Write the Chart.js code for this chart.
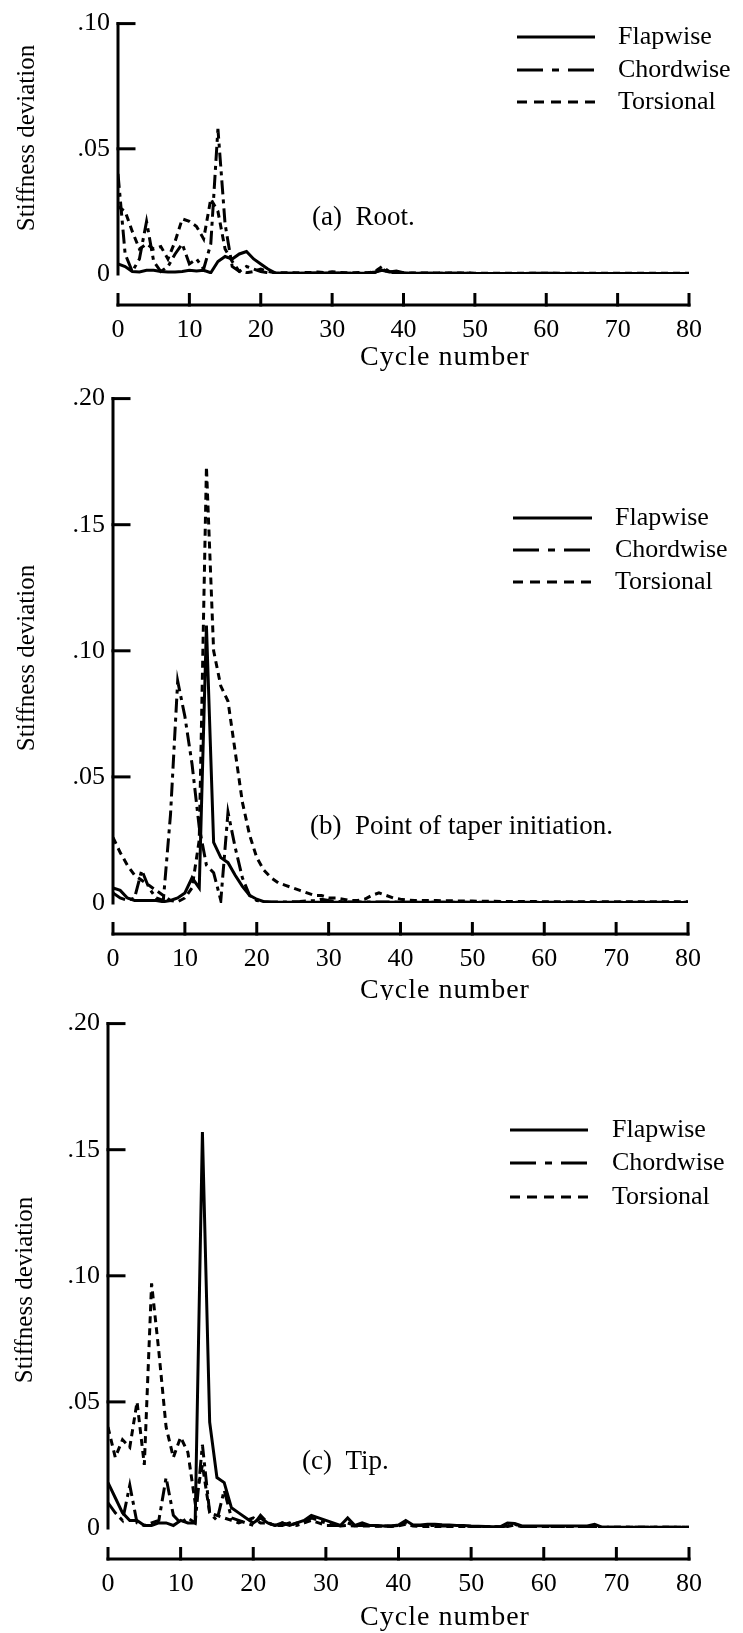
<!DOCTYPE html>
<html><head><meta charset="utf-8">
<script src="https://cdn.jsdelivr.net/npm/chart.js@4.4.1/dist/chart.umd.min.js"></script>
<style>
html,body{margin:0;padding:0;background:#fff;}
#wrap{position:relative;width:743px;height:1633px;overflow:hidden;background:#fff;}
canvas{position:absolute;left:0;}
</style></head><body>
<div id="wrap">
<canvas id="cA" style="top:0px"></canvas>
<canvas id="cB" style="top:375px"></canvas>
<canvas id="cC" style="top:1000px"></canvas>
</div>
<script>
// ---------- data ----------
const cycles = [0,1,2,3,4,5,6,7,8,9,10,11,12,13,14,15,16,17,18,19,20,21,22,23,24,25,26,27,28,29,30,31,32,33,34,35,36,37,38,39,40,41,42,43,44,45,46,47,48,49,50,51,52,53,54,55,56,57,58,59,60,61,62,63,64,65,66,67,68,69,70,71,72,73,74,75,76,77,78,79,80];
const xTickValues = [0,10,20,30,40,50,60,70,80];
const yTicksRoot = [0, 0.05, 0.10];
const yTicksTaper = [0, 0.05, 0.10, 0.15, 0.20];
const yTicksTip = [0, 0.05, 0.10, 0.15, 0.20];
const seriesNames = ['Flapwise', 'Chordwise', 'Torsional'];
const panelCaptions = ['(a)  Root.', '(b)  Point of taper initiation.', '(c)  Tip.'];
const xTitle = 'Cycle number';
const yTitle = 'Stiffness deviation';

// (a) Root
const rootFlapwise = [
0.004,0.003,0.001,0.0008,0.0015,0.0015,0.001,0.0008,0.0008,0.001,
0.0015,0.0012,0.0015,0.0005,0.005,0.007,0.006,0.008,0.009,0.006,
0.004,0.002,0.0005,0.0003,0.0003,0.0003,0.0003,0.0003,0.0004,0.0004,
0.0005,0.0004,0.0003,0.0003,0.0003,0.0004,0.0008,0.0015,0.0008,0.0012,
0.0005,0.0003,0.0003,0.0003,0.0003,0.0003,0.0003,0.0003,0.0003,0.0003,
0.0002,0.0002,0.0002,0.0002,0.0002,0.0002,0.0002,0.0002,0.0003,0.0003,
0.0003,0.0003,0.0002,0.0002,0.0002,0.0002,0.0002,0.0002,0.0002,0.0002,
0.0002,0.0002,0.0002,0.0002,0.0002,0.0002,0.0002,0.0002,0.0002,0.0002,
0.0002];
const rootChordwise = [
0.04,0.008,0.001,0.006,0.021,0.005,0.001,0.003,0.008,0.012,
0.004,0.006,0.002,0.012,0.058,0.02,0.003,0.001,0.003,0.002,
0.001,0.0005,0.0003,0.0003,0.0003,0.0003,0.0003,0.0004,0.0004,0.0004,
0.0004,0.0003,0.0003,0.0003,0.0003,0.0004,0.0006,0.002,0.0006,0.0004,
0.0003,0.0003,0.0003,0.0003,0.0003,0.0003,0.0003,0.0003,0.0003,0.0003,
0.0002,0.0002,0.0002,0.0002,0.0002,0.0002,0.0002,0.0002,0.0002,0.0002,
0.0002,0.0002,0.0002,0.0002,0.0002,0.0002,0.0002,0.0002,0.0002,0.0002,
0.0002,0.0002,0.0002,0.0002,0.0002,0.0002,0.0002,0.0002,0.0002,0.0002,
0.0002];
const rootTorsional = [
0.027,0.025,0.017,0.01,0.012,0.01,0.011,0.006,0.013,0.022,
0.021,0.019,0.014,0.03,0.025,0.01,0.005,0.001,0.0005,0.001,
0.002,0.001,0.0005,0.0005,0.0005,0.0005,0.0006,0.0006,0.0008,0.0006,
0.0009,0.0006,0.0005,0.0005,0.0006,0.0005,0.001,0.003,0.001,0.0006,
0.0005,0.0004,0.0004,0.0004,0.0004,0.0004,0.0004,0.0004,0.0004,0.0004,
0.0003,0.0003,0.0003,0.0003,0.0003,0.0003,0.0003,0.0003,0.0003,0.0003,
0.0003,0.0003,0.0003,0.0003,0.0003,0.0003,0.0003,0.0003,0.0003,0.0003,
0.0003,0.0003,0.0003,0.0003,0.0003,0.0003,0.0003,0.0003,0.0003,0.0003,
0.0003];

// (b) Point of taper initiation
const taperFlapwise = [
0.006,0.005,0.002,0.001,0.001,0.001,0.001,0.0005,0.001,0.002,
0.004,0.01,0.006,0.11,0.024,0.018,0.016,0.011,0.0066,0.003,
0.0015,0.0005,0.0003,0.0003,0.0003,0.0003,0.0003,0.0003,0.0003,0.0003,
0.0003,0.0003,0.0003,0.0003,0.0003,0.0003,0.0003,0.0003,0.0003,0.0003,
0.0003,0.0003,0.0003,0.0003,0.0003,0.0003,0.0003,0.0003,0.0003,0.0003,
0.0002,0.0002,0.0002,0.0002,0.0002,0.0002,0.0002,0.0002,0.0002,0.0002,
0.0002,0.0002,0.0002,0.0002,0.0002,0.0002,0.0002,0.0002,0.0002,0.0002,
0.0002,0.0002,0.0002,0.0002,0.0002,0.0002,0.0002,0.0002,0.0002,0.0002,
0.0002];
const taperChordwise = [
0.004,0.002,0.001,0.002,0.013,0.006,0.002,0.001,0.035,0.088,
0.074,0.055,0.03,0.015,0.012,0.001,0.036,0.022,0.01,0.003,
0.001,0.0005,0.0004,0.0004,0.0004,0.0005,0.0006,0.0008,0.001,0.0015,
0.001,0.0006,0.0005,0.0004,0.0004,0.0004,0.0004,0.0004,0.0004,0.0004,
0.0003,0.0003,0.0003,0.0003,0.0003,0.0003,0.0003,0.0003,0.0003,0.0003,
0.0003,0.0003,0.0003,0.0003,0.0003,0.0003,0.0003,0.0003,0.0003,0.0003,
0.0003,0.0003,0.0003,0.0003,0.0003,0.0003,0.0003,0.0003,0.0003,0.0003,
0.0003,0.0003,0.0003,0.0003,0.0003,0.0003,0.0003,0.0003,0.0003,0.0003,
0.0003];
const taperTorsional = [
0.026,0.02,0.015,0.011,0.009,0.007,0.005,0.003,0.001,0.0005,
0.002,0.006,0.025,0.173,0.1,0.086,0.08,0.06,0.04,0.027,
0.018,0.013,0.01,0.008,0.007,0.006,0.005,0.004,0.003,0.003,
0.002,0.002,0.0015,0.001,0.001,0.0015,0.003,0.004,0.003,0.002,
0.0015,0.0012,0.001,0.001,0.001,0.001,0.0009,0.0009,0.0008,0.0008,
0.0008,0.0007,0.0007,0.0007,0.0006,0.0006,0.0006,0.0006,0.0006,0.0006,
0.0005,0.0005,0.0005,0.0005,0.0005,0.0005,0.0005,0.0005,0.0005,0.0005,
0.0005,0.0005,0.0005,0.0005,0.0005,0.0005,0.0005,0.0005,0.0005,0.0005,
0.0005];

// (c) Tip
const tipFlapwise = [
0.018,0.012,0.006,0.003,0.003,0.001,0.001,0.002,0.002,0.001,
0.003,0.002,0.002,0.157,0.042,0.02,0.018,0.008,0.006,0.004,
0.002,0.004,0.002,0.001,0.002,0.001,0.002,0.003,0.005,0.004,
0.003,0.002,0.001,0.004,0.001,0.002,0.001,0.001,0.0008,0.0008,
0.0012,0.003,0.0012,0.0012,0.0015,0.0015,0.0013,0.0012,0.001,0.001,
0.0008,0.0007,0.0006,0.0005,0.0005,0.002,0.0018,0.0008,0.0008,0.0008,
0.0008,0.0008,0.0008,0.0008,0.0008,0.0008,0.0008,0.0015,0.0003,0.0003,
0.0003,0.0003,0.0003,0.0003,0.0003,0.0003,0.0003,0.0003,0.0003,0.0003,
0.0003];
const tipChordwise = [
0.01,0.006,0.003,0.017,0.002,0.001,0.002,0.003,0.02,0.005,
0.002,0.004,0.002,0.033,0.006,0.003,0.015,0.004,0.003,0.002,
0.001,0.005,0.002,0.001,0.001,0.002,0.001,0.002,0.004,0.003,
0.002,0.001,0.001,0.002,0.001,0.001,0.001,0.0008,0.0008,0.0008,
0.001,0.002,0.001,0.001,0.001,0.001,0.0008,0.0008,0.0008,0.0008,
0.0006,0.0006,0.0005,0.0005,0.0004,0.0008,0.0015,0.0006,0.0004,0.0003,
0.0003,0.0003,0.0003,0.0003,0.0003,0.0003,0.0003,0.0003,0.0003,0.0003,
0.0003,0.0003,0.0003,0.0003,0.0003,0.0003,0.0003,0.0003,0.0003,0.0003,
0.0003];
const tipTorsional = [
0.04,0.028,0.035,0.032,0.05,0.025,0.097,0.07,0.04,0.028,
0.036,0.03,0.01,0.025,0.006,0.005,0.004,0.003,0.002,0.003,
0.004,0.002,0.002,0.001,0.002,0.001,0.002,0.002,0.003,0.002,
0.001,0.001,0.0008,0.001,0.0008,0.0008,0.0008,0.0007,0.0007,0.0006,
0.0008,0.0015,0.0008,0.0006,0.0006,0.0006,0.0006,0.0005,0.0005,0.0005,
0.0005,0.0005,0.0005,0.0005,0.0004,0.0006,0.0012,0.0005,0.0004,0.0004,
0.0003,0.0003,0.0003,0.0003,0.0003,0.0003,0.0003,0.0003,0.0003,0.0003,
0.0003,0.0003,0.0003,0.0003,0.0003,0.0003,0.0003,0.0003,0.0003,0.0003,
0.0003];

// ---------- styling ----------
const FONT_FAMILY = "'Liberation Serif', 'Times New Roman', serif";
const FONT_SIZE = 26;
const DATA_DASH = [[], [14, 5, 4, 5], [7, 5]];
const LEGEND_DASH = [[], [26, 9, 7, 9], [10, 7]];

function fmtY(v) {
  if (Math.abs(v) < 1e-9) return '0';
  return '.' + String(Math.round(v * 100)).padStart(2, '0');
}

const decor = {
  id: 'decor',
  afterDraw(chart, args, o) {
    const ctx = chart.ctx;
    const xs = chart.scales.x, ys = chart.scales.y;
    const xa = xs.getPixelForValue(xTickValues[0]);
    const xb = xs.getPixelForValue(xTickValues[xTickValues.length - 1]);
    const y0 = ys.getPixelForValue(0);
    const yTop = ys.getPixelForValue(ys.max);
    ctx.save();
    ctx.strokeStyle = '#000';
    ctx.fillStyle = '#000';
    ctx.setLineDash([]);
    ctx.lineWidth = 3;
    ctx.lineCap = 'square';
    // y axis line
    ctx.beginPath();
    ctx.moveTo(xa, y0);
    ctx.lineTo(xa, yTop);
    ctx.stroke();
    // y tick marks (inward)
    ys.ticks.forEach(t => {
      if (t.value > 0) {
        const py = ys.getPixelForValue(t.value);
        ctx.beginPath();
        ctx.moveTo(xa, py);
        ctx.lineTo(xa + 16, py);
        ctx.stroke();
      }
    });
    // detached x axis
    const ya = y0 + o.axisGap;
    ctx.lineCap = 'butt';
    ctx.beginPath();
    ctx.moveTo(xa - 1.5, ya);
    ctx.lineTo(xb + 1.5, ya);
    ctx.stroke();
    xs.ticks.forEach(t => {
      const px = xs.getPixelForValue(t.value);
      ctx.beginPath();
      ctx.moveTo(px, ya + 1.5);
      ctx.lineTo(px, ya - 12);
      ctx.stroke();
    });
    // texts
    ctx.textBaseline = 'middle';
    ctx.textAlign = 'center';
    ctx.font = '28px ' + FONT_FAMILY;
    if ('letterSpacing' in ctx) ctx.letterSpacing = '1px';
    ctx.fillText(xTitle, o.xTitleX, y0 + o.xTitleDy);
    if ('letterSpacing' in ctx) ctx.letterSpacing = '0px';
    ctx.font = '25px ' + FONT_FAMILY;
    ctx.save();
    ctx.translate(o.yTitleX, o.yTitleY);
    ctx.rotate(-Math.PI / 2);
    ctx.fillText(yTitle, 0, 0);
    ctx.restore();
    ctx.textAlign = 'left';
    ctx.font = '27px ' + FONT_FAMILY;
    ctx.fillText(o.caption, o.captionX, o.captionY);
    // legend
    ctx.font = FONT_SIZE + 'px ' + FONT_FAMILY;
    seriesNames.forEach((name, k) => {
      const ry = o.legendRows[k];
      ctx.setLineDash(LEGEND_DASH[k]);
      ctx.lineWidth = 3;
      ctx.beginPath();
      ctx.moveTo(o.legendX0, ry);
      ctx.lineTo(o.legendX1, ry);
      ctx.stroke();
      ctx.setLineDash([]);
      ctx.fillText(name, o.legendTextX, ry);
    });
    ctx.restore();
  }
};

function makeChart(id, cfg) {
  const canvas = document.getElementById(id);
  canvas.width = 743;
  canvas.height = cfg.height;
  const font = { family: FONT_FAMILY, size: FONT_SIZE };
  return new Chart(canvas, {
    type: 'line',
    data: {
      datasets: cfg.series.map((vals, k) => ({
        label: seriesNames[k],
        data: cycles.map((c, i) => ({ x: c, y: vals[i] })),
        borderColor: '#000',
        borderWidth: 3,
        borderDash: DATA_DASH[k],
        borderCapStyle: 'butt',
        borderJoinStyle: 'miter',
        pointRadius: 0,
        tension: 0,
        fill: false
      }))
    },
    options: {
      responsive: false,
      animation: false,
      devicePixelRatio: 1,
      layout: { padding: { left: 0, right: 743 - cfg.right, top: cfg.top, bottom: 0 } },
      plugins: { legend: { display: false }, tooltip: { enabled: false }, decor: cfg.decor },
      scales: {
        x: {
          type: 'linear', min: 0, max: 80,
          grid: { display: false, drawTicks: false },
          border: { display: false },
          afterFit: s => { s.height = cfg.height - cfg.bottom; },
          afterBuildTicks: s => { s.ticks = xTickValues.map(v => ({ value: v })); },
          ticks: { autoSkip: false, maxRotation: 0, minRotation: 0, padding: cfg.xLabelPad, color: '#000', font, callback: v => String(v) }
        },
        y: {
          type: 'linear', min: 0, max: cfg.yTicks[cfg.yTicks.length - 1],
          grid: { display: false, drawTicks: false },
          border: { display: false },
          afterFit: s => { s.width = cfg.left; },
          afterBuildTicks: s => { s.ticks = cfg.yTicks.map(v => ({ value: v })); },
          ticks: { padding: 8, color: '#000', font, callback: v => fmtY(v) }
        }
      }
    },
    plugins: [decor]
  });
}

makeChart('cA', {
  height: 375, left: 118, right: 699, top: 22, bottom: 274, xLabelPad: 41,
  yTicks: yTicksRoot,
  series: [rootFlapwise, rootChordwise, rootTorsional],
  decor: { axisGap: 31, xTitleX: 445, xTitleDy: 84, yTitleX: 27, yTitleY: 138,
           caption: panelCaptions[0], captionX: 312, captionY: 218,
           legendX0: 517, legendX1: 595, legendTextX: 618, legendRows: [37, 70, 102] }
});
makeChart('cB', {
  height: 625, left: 113, right: 688, top: 22, bottom: 528, xLabelPad: 41,
  yTicks: yTicksTaper,
  series: [taperFlapwise, taperChordwise, taperTorsional],
  decor: { axisGap: 31, xTitleX: 445, xTitleDy: 88, yTitleX: 27, yTitleY: 283,
           caption: panelCaptions[1], captionX: 310, captionY: 452,
           legendX0: 513, legendX1: 592, legendTextX: 615, legendRows: [143, 175, 207] }
});
makeChart('cC', {
  height: 633, left: 108, right: 691, top: 22, bottom: 528, xLabelPad: 41,
  yTicks: yTicksTip,
  series: [tipFlapwise, tipChordwise, tipTorsional],
  decor: { axisGap: 31, xTitleX: 445, xTitleDy: 90, yTitleX: 25, yTitleY: 290,
           caption: panelCaptions[2], captionX: 302, captionY: 462,
           legendX0: 510, legendX1: 588, legendTextX: 612, legendRows: [130, 163, 197] }
});
</script>
</body></html>
